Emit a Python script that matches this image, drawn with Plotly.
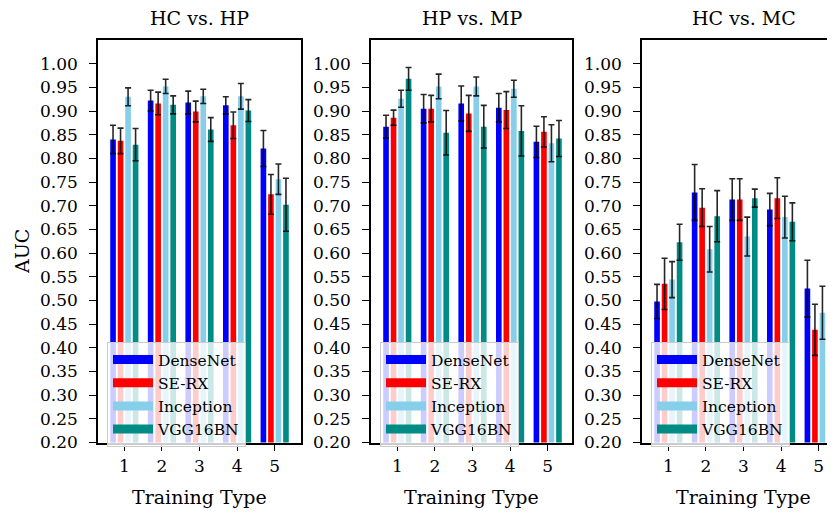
import plotly.graph_objects as go

training_types = [1, 2, 3, 4, 5]
models = ["DenseNet", "SE-RX", "Inception", "VGG16BN"]
colors = ["#0000ff", "#ff0000", "#87ceeb", "#008b84"]
panel_titles = ["HC vs. HP", "HP vs. MP", "HC vs. MC"]

# AUC means per panel, per model (order: DenseNet, SE-RX, Inception, VGG16BN)
hc_hp = [
    [0.840, 0.922, 0.918, 0.912, 0.821],
    [0.837, 0.916, 0.899, 0.870, 0.724],
    [0.930, 0.952, 0.931, 0.931, 0.756],
    [0.829, 0.913, 0.861, 0.901, 0.702],
]
hc_hp_err = [
    [0.030, 0.022, 0.024, 0.018, 0.038],
    [0.027, 0.024, 0.022, 0.028, 0.042],
    [0.019, 0.015, 0.015, 0.027, 0.032],
    [0.034, 0.019, 0.025, 0.023, 0.056],
]
hp_mp = [
    [0.867, 0.905, 0.916, 0.907, 0.835],
    [0.886, 0.905, 0.895, 0.902, 0.856],
    [0.926, 0.952, 0.952, 0.947, 0.832],
    [0.968, 0.854, 0.867, 0.858, 0.842],
]
hp_mp_err = [
    [0.024, 0.030, 0.037, 0.030, 0.033],
    [0.016, 0.028, 0.038, 0.039, 0.032],
    [0.018, 0.026, 0.020, 0.018, 0.039],
    [0.024, 0.047, 0.045, 0.053, 0.038],
]
hc_mc = [
    [0.498, 0.728, 0.713, 0.692, 0.525],
    [0.535, 0.696, 0.713, 0.716, 0.438],
    [0.544, 0.608, 0.635, 0.676, 0.474],
    [0.623, 0.678, 0.716, 0.666, 0.508],
]
hc_mc_err = [
    [0.036, 0.059, 0.044, 0.034, 0.060],
    [0.054, 0.040, 0.044, 0.043, 0.054],
    [0.038, 0.048, 0.041, 0.044, 0.056],
    [0.038, 0.054, 0.019, 0.040, 0.050],
]
y_ticks = [0.20, 0.25, 0.30, 0.35, 0.40, 0.45, 0.50, 0.55, 0.60, 0.65,
           0.70, 0.75, 0.80, 0.85, 0.90, 0.95, 1.00]

panels = [(hc_hp, hc_hp_err), (hp_mp, hp_mp_err), (hc_mc, hc_mc_err)]
offsets = [-0.3, -0.1, 0.1, 0.3]
bar_w = 0.15

OFF = 8  # page body margin in the browser
W, H = 835 - OFF, 514 - OFF
FONT = "DejaVu Serif"
# panel frame positions in page pixels
left_px = [98, 371, 642]
right_px = [301, 572, 845]
top_px, bot_px = 40, 442.5
px_per_unit = (right_px[0] - left_px[0]) / 5.4


def fx(px):
    return (px - OFF) / W


def fy(py):
    return (H - (py - OFF)) / H


fig = go.Figure()
for p, (vals, errs) in enumerate(panels):
    xa = "x" if p == 0 else f"x{p+1}"
    ya = "y" if p == 0 else f"y{p+1}"
    lg = "legend" if p == 0 else f"legend{p+1}"
    for m in range(4):
        fig.add_trace(go.Bar(
            x=[t + offsets[m] for t in training_types], y=vals[m], width=bar_w,
            marker=dict(color=colors[m], line=dict(width=0)),
            error_y=dict(type="data", array=errs[m], color="rgba(0,0,0,0.85)",
                         thickness=1.6, width=3),
            xaxis=xa, yaxis=ya, showlegend=False, name=models[m]))
    for m in range(4):
        fig.add_trace(go.Scatter(
            x=[None], y=[None], mode="lines", name=models[m],
            line=dict(color=colors[m], width=9),
            xaxis=xa, yaxis=ya, legend=lg, showlegend=True))

layout = dict(
    width=W, height=H, margin=dict(l=0, r=0, t=0, b=0, autoexpand=False),
    plot_bgcolor="white", paper_bgcolor="white",
    font=dict(family=FONT, size=17, color="black"),
    barmode="overlay",
)
ydom = [fy(bot_px), fy(top_px)]
for p in range(3):
    sfx = "" if p == 0 else str(p + 1)
    x0 = fx(left_px[p])
    x1 = min(fx(right_px[p]), 1.0)
    xmax = 0.3 + (x1 - x0) * W / px_per_unit
    layout["xaxis" + sfx] = dict(
        domain=[x0, x1], range=[0.3, xmax], anchor="y" + sfx, automargin=False,
        tickvals=training_types, ticktext=[str(t) for t in training_types],
        ticks="outside", ticklen=7, tickwidth=1.3, tickcolor="black",
        showline=True, linecolor="black", linewidth=1.5, mirror=True,
        showgrid=False, zeroline=False,
        tickfont=dict(size=17, family=FONT),
    )
    layout["yaxis" + sfx] = dict(
        domain=ydom, range=[0.2, 1.05], anchor="x" + sfx, automargin=False,
        tickvals=y_ticks, ticktext=[f"{v:.2f}" for v in y_ticks],
        ticks="outside", ticklen=7, tickwidth=1.3, tickcolor="black",
        ticklabelstandoff=8,
        showline=True, linecolor="black", linewidth=1.5, mirror=(p < 2),
        showgrid=False, zeroline=False,
        tickfont=dict(size=17, family=FONT),
    )
    lg = "legend" if p == 0 else f"legend{p+1}"
    layout[lg] = dict(
        x=fx(left_px[p] + 9), y=fy(342), xanchor="left", yanchor="top",
        xref="paper", yref="paper",
        bgcolor="rgba(255,255,255,0.8)", bordercolor="#cccccc", borderwidth=1,
        font=dict(size=15.5, family=FONT), itemwidth=40, tracegroupgap=0,
    )
fig.update_layout(**layout)

for p in range(3):
    cx = fx((left_px[p] + right_px[p]) / 2)
    fig.add_annotation(text=panel_titles[p], x=cx, y=fy(18), xref="paper", yref="paper",
                       showarrow=False, font=dict(size=19, family=FONT),
                       xanchor="center", yanchor="middle")
    fig.add_annotation(text="Training Type", x=cx, y=fy(497), xref="paper", yref="paper",
                       showarrow=False, font=dict(size=19, family=FONT),
                       xanchor="center", yanchor="middle")
fig.add_annotation(text="AUC", x=fx(22), y=fy(252), xref="paper", yref="paper",
                   showarrow=False, textangle=-90, font=dict(size=19, family=FONT),
                   xanchor="center", yanchor="middle")

fig.write_html("out.html")
